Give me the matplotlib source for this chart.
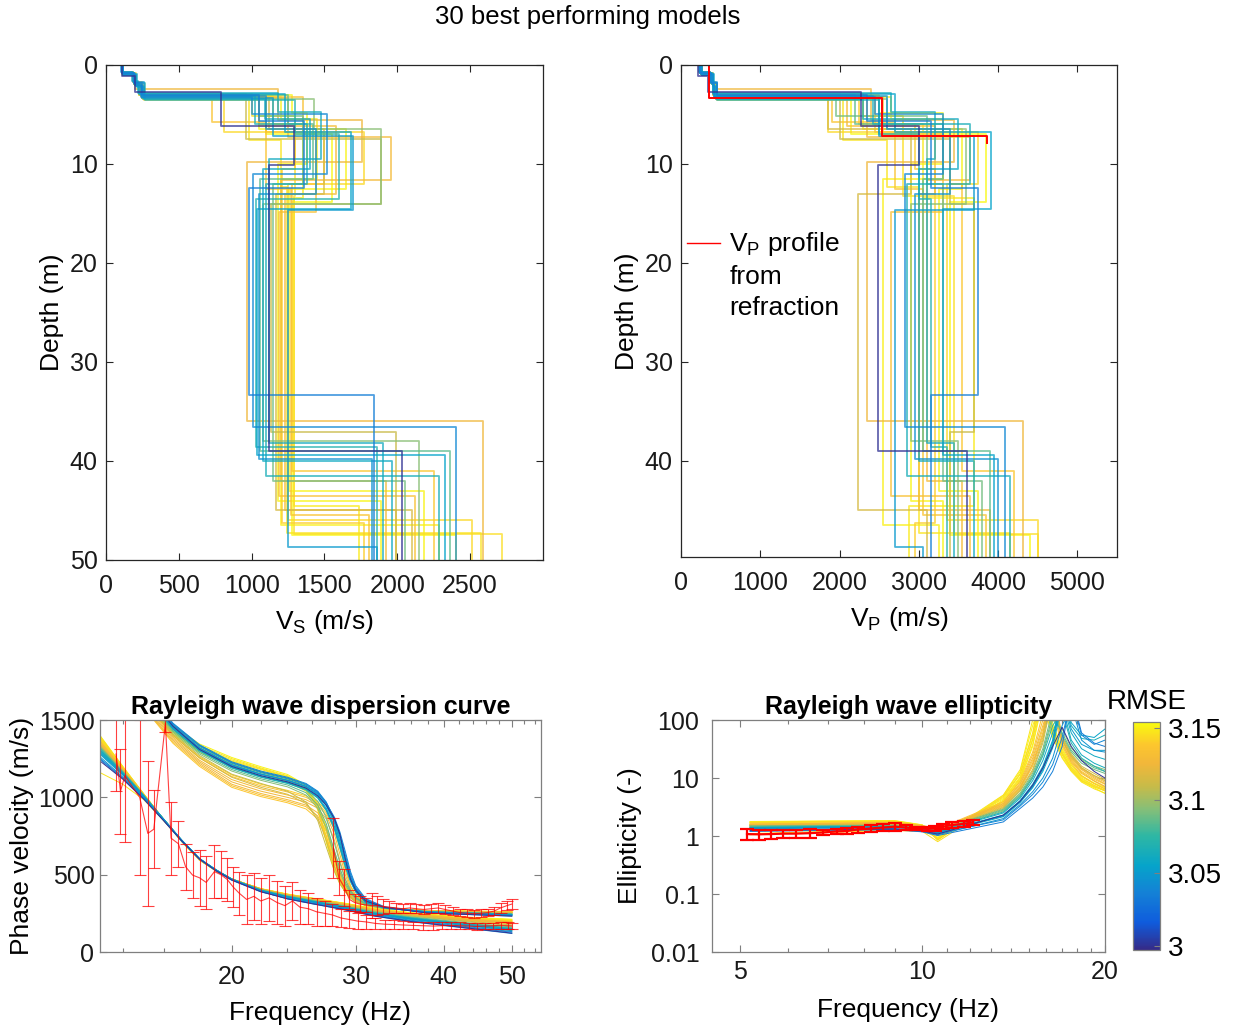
import numpy as np
import matplotlib.pyplot as plt
from matplotlib.colors import LinearSegmentedColormap, Normalize
from matplotlib.cm import ScalarMappable
from matplotlib.lines import Line2D
from matplotlib.ticker import FixedLocator, NullFormatter, NullLocator

plt.rcParams['font.family'] = ['Liberation Sans', 'DejaVu Sans']
plt.rcParams['mathtext.fontset'] = 'custom'
plt.rcParams['mathtext.rm'] = 'Liberation Sans'
plt.rcParams['mathtext.it'] = 'Liberation Sans:italic'

# ---- misfit of the 30 retained models ----
RMSE = [3.000, 3.035, 3.040, 3.045, 3.050, 3.055, 3.060, 3.062, 3.065, 3.070,
        3.085, 3.090, 3.095, 3.110, 3.115, 3.125, 3.128, 3.130, 3.133, 3.136,
        3.138, 3.140, 3.143, 3.145, 3.147, 3.149, 3.150, 3.151, 3.152, 3.153]
RMSE_LIMS = [2.997, 3.154]

# ---- layered models: layer bottoms (m), Vs and Vp per layer (m/s) ----
LAYER_DEPTHS = [
    [1.1, 1.9, 2.7, 6.2, 10.1, 39.0],
    [0.8, 1.8, 3.0, 5.7, 12.4, 33.3],
    [0.9, 2.0, 3.2, 5.0, 11.0, 36.6],
    [0.7, 1.7, 3.1, 6.5, 13.0, 39.8],
    [1.0, 2.1, 3.3, 7.2, 14.7, 48.7],
    [0.8, 1.9, 2.9, 6.8, 14.5, 39.4],
    [0.9, 2.2, 3.4, 5.5, 10.5, 40.0],
    [0.7, 1.6, 2.8, 4.8, 9.5, 38.2],
    [1.0, 2.0, 3.1, 6.0, 12.0, 41.5],
    [0.8, 1.8, 3.5, 7.0, 13.5, 38.6],
    [0.9, 1.9, 3.0, 6.0, 11.5, 39.0],
    [0.8, 2.0, 3.2, 5.2, 12.0, 42.0],
    [1.0, 2.1, 3.4, 6.5, 14.0, 38.0],
    [0.9, 1.8, 2.9, 7.5, 14.0, 37.1],
    [0.8, 1.9, 3.3, 6.5, 13.0, 45.0],
    [0.9, 2.0, 2.4, 5.6, 9.8, 36.0],
    [1.0, 2.1, 3.3, 7.3, 11.6, 42.0],
    [0.8, 1.8, 3.0, 6.2, 13.0, 45.0],
    [0.7, 1.7, 3.2, 7.0, 14.9, 43.5],
    [0.9, 2.0, 3.4, 5.8, 12.5, 45.5],
    [1.0, 1.9, 3.1, 6.8, 12.0, 41.0],
    [0.8, 2.1, 3.5, 6.0, 10.5, 46.3],
    [0.9, 1.8, 3.0, 6.8, 12.0, 46.0],
    [0.7, 1.7, 2.9, 5.2, 13.2, 47.4],
    [1.0, 2.0, 3.3, 7.6, 12.3, 47.3],
    [0.8, 1.9, 3.1, 6.0, 13.4, 44.6],
    [0.9, 2.0, 3.2, 5.5, 11.5, 46.5],
    [1.0, 2.1, 3.4, 6.5, 12.5, 43.0],
    [0.8, 1.8, 3.0, 4.9, 10.0, 44.0],
    [0.9, 1.9, 3.3, 7.0, 13.8, 47.5],
]
VS_LAYERS = [
    [113, 197, 197, 792, 1294, 1118, 2032],
    [110, 190, 250, 1050, 1362, 985, 1837],
    [115, 200, 240, 1000, 1516, 1007, 2403],
    [105, 185, 260, 1100, 1440, 1050, 1830],
    [118, 205, 250, 1150, 1697, 1253, 1864],
    [112, 195, 230, 1230, 1680, 1040, 2328],
    [116, 210, 260, 1090, 1400, 1080, 1961],
    [108, 180, 220, 1180, 1475, 1120, 1900],
    [117, 200, 245, 1020, 1380, 1100, 2290],
    [111, 192, 265, 1300, 1600, 1030, 1864],
    [114, 198, 235, 1250, 1420, 1057, 2362],
    [110, 200, 250, 1050, 1350, 1150, 2050],
    [118, 205, 255, 1430, 1887, 1080, 2150],
    [113, 190, 225, 960, 1887, 1130, 1990],
    [110, 195, 250, 1120, 1500, 1165, 2100],
    [115, 200, 200, 1180, 1760, 966, 2590],
    [118, 205, 245, 1250, 1960, 1200, 1920],
    [112, 190, 230, 1050, 1577, 1230, 1990],
    [108, 185, 250, 1350, 1441, 1190, 2120],
    [116, 200, 255, 730, 1100, 1270, 1808],
    [117, 195, 240, 1100, 1500, 1280, 2250],
    [111, 205, 260, 1050, 1300, 1210, 1770],
    [114, 190, 235, 808, 1770, 1250, 2516],
    [107, 183, 225, 1000, 1300, 1290, 2720],
    [118, 200, 250, 980, 1200, 1240, 2572],
    [110, 195, 240, 1150, 1350, 1294, 1735],
    [115, 200, 245, 1200, 1450, 1200, 2290],
    [118, 205, 255, 1050, 1650, 1260, 2185],
    [111, 190, 230, 1280, 1380, 1180, 1890],
    [113, 195, 245, 1100, 1550, 1275, 2400],
]
VP_LAYERS = [
    [218, 340, 340, 2277, 3004, 2487, 3613],
    [240, 380, 450, 2350, 3150, 3748, 3151],
    [250, 400, 420, 2450, 3300, 2823, 4084],
    [230, 360, 450, 2600, 3400, 2950, 4000],
    [260, 410, 430, 2500, 3700, 2697, 3050],
    [245, 390, 410, 2700, 3908, 3300, 3950],
    [255, 420, 440, 2300, 3500, 3000, 3700],
    [235, 370, 400, 2650, 3200, 3100, 3450],
    [265, 400, 420, 2420, 3650, 2850, 4147],
    [240, 385, 455, 2500, 3000, 3160, 3350],
    [250, 395, 415, 2200, 3300, 3050, 3900],
    [245, 400, 430, 1950, 3100, 3300, 3800],
    [260, 410, 440, 2600, 3600, 2900, 3500],
    [250, 380, 400, 2000, 3400, 3700, 3400],
    [240, 390, 430, 1850, 2900, 2227, 3100],
    [250, 400, 400, 2400, 3450, 2353, 4315],
    [260, 410, 430, 2350, 3650, 3100, 3550],
    [245, 380, 410, 2100, 3200, 3000, 3900],
    [235, 370, 435, 2550, 3300, 2650, 3650],
    [255, 400, 450, 1900, 2700, 3050, 3850],
    [265, 390, 420, 2450, 3400, 3550, 4200],
    [240, 410, 450, 2250, 2950, 3200, 2950],
    [250, 385, 415, 1850, 3750, 3350, 4504],
    [230, 365, 400, 2300, 2800, 3450, 4500],
    [260, 400, 430, 2050, 2600, 3000, 4150],
    [245, 390, 420, 2500, 3050, 3700, 2878],
    [250, 400, 430, 2650, 3300, 2550, 3250],
    [265, 410, 445, 2300, 3550, 3250, 3750],
    [240, 380, 410, 2500, 3300, 2900, 3300],
    [250, 395, 430, 2150, 3850, 3400, 4400],
]

# P-wave profile from refraction survey
REFR_DEPTHS = [3.3, 7.2, 7.9]
REFR_VP = [357, 2540, 3865]

# ---- synthetic dispersion curves (fundamental and first higher mode) ----
FUND_FREQ = [13, 14, 15, 16, 17, 18, 19, 20, 22, 24, 26, 29, 32, 36, 42, 50]
FUND_VEL = [
    [1235, 1118, 988, 850, 716, 601, 526, 466, 390, 344, 313, 273, 232, 197, 162, 122],
    [1245, 1122, 992, 852, 714, 599, 524, 464, 389, 346, 316, 276, 236, 201, 166, 128],
    [1252, 1126, 995, 853, 717, 602, 527, 467, 392, 343, 312, 272, 231, 196, 160, 120],
    [1262, 1132, 998, 855, 718, 603, 528, 468, 393, 348, 318, 279, 239, 205, 170, 132],
    [1285, 1148, 1004, 858, 721, 604, 531, 471, 398, 356, 326, 287, 247, 214, 180, 143],
    [1298, 1154, 1008, 860, 720, 603, 530, 470, 397, 357, 327, 288, 249, 216, 182, 146],
    [1278, 1144, 1002, 857, 722, 605, 532, 472, 399, 354, 323, 283, 243, 210, 176, 138],
    [1305, 1158, 1010, 860, 719, 602, 529, 469, 396, 358, 329, 290, 251, 218, 185, 150],
    [1292, 1151, 1006, 859, 720, 604, 531, 471, 398, 355, 325, 286, 246, 213, 179, 141],
    [1315, 1162, 1011, 859, 718, 601, 528, 469, 398, 359, 330, 291, 252, 220, 188, 152],
    [1318, 1164, 1012, 860, 720, 602, 530, 472, 402, 361, 332, 294, 256, 224, 191, 157],
    [1328, 1169, 1013, 861, 719, 601, 529, 471, 403, 363, 335, 297, 259, 227, 195, 162],
    [1306, 1158, 1009, 859, 721, 603, 531, 473, 401, 360, 331, 293, 255, 222, 189, 155],
    [1335, 1172, 1012, 857, 717, 599, 527, 472, 405, 367, 339, 301, 264, 234, 205, 175],
    [1325, 1168, 1011, 858, 718, 600, 528, 472, 404, 365, 337, 299, 262, 232, 201, 170],
    [1345, 1178, 1014, 858, 716, 598, 527, 472, 406, 369, 342, 306, 270, 242, 213, 188],
    [1355, 1182, 1016, 859, 715, 597, 526, 472, 407, 370, 343, 307, 272, 244, 216, 192],
    [1340, 1176, 1013, 857, 717, 599, 528, 472, 405, 368, 340, 304, 268, 240, 210, 184],
    [1362, 1185, 1017, 858, 715, 597, 526, 471, 406, 370, 344, 308, 273, 245, 217, 194],
    [1348, 1180, 1014, 858, 716, 598, 527, 472, 406, 369, 341, 305, 269, 241, 212, 186],
    [1366, 1187, 1017, 857, 714, 596, 525, 471, 407, 371, 345, 309, 274, 246, 219, 196],
    [1338, 1175, 1013, 859, 717, 599, 528, 473, 405, 367, 340, 303, 267, 238, 208, 182],
    [1382, 1193, 1019, 857, 714, 596, 526, 472, 408, 372, 346, 311, 276, 249, 222, 200],
    [1396, 1199, 1021, 856, 713, 595, 525, 471, 409, 373, 347, 312, 277, 250, 224, 204],
    [1160, 1085, 985, 850, 715, 598, 527, 473, 408, 371, 345, 310, 275, 248, 221, 198],
    [1372, 1189, 1018, 857, 714, 596, 526, 472, 407, 372, 345, 310, 275, 248, 221, 199],
    [1388, 1196, 1020, 856, 713, 595, 525, 471, 409, 373, 347, 312, 277, 250, 223, 202],
    [1376, 1191, 1019, 858, 715, 597, 527, 472, 408, 372, 347, 313, 279, 252, 226, 207],
    [1392, 1197, 1020, 856, 713, 595, 525, 471, 409, 374, 348, 314, 280, 253, 227, 210],
    [1400, 1201, 1022, 855, 712, 594, 524, 470, 410, 375, 349, 315, 281, 254, 228, 212],
]
HIGH_FREQ = [15.5, 16.5, 18, 20, 22, 24, 25.5, 26.5, 27.25, 28, 28.5, 29, 29.5, 30, 31, 33, 38, 50]
HIGH_VEL = [
    [1610, 1460, 1310, 1200, 1140, 1100, 1060, 1010, 950, 860, 760, 600, 470, 400, 330, 288, 252, 232],
    [1630, 1475, 1335, 1225, 1165, 1125, 1085, 1035, 965, 860, 760, 630, 505, 420, 340, 290, 254, 235],
    [1615, 1465, 1320, 1210, 1150, 1110, 1072, 1025, 962, 870, 775, 650, 520, 430, 345, 292, 256, 236],
    [1640, 1480, 1340, 1230, 1170, 1130, 1090, 1040, 970, 855, 745, 610, 490, 410, 335, 288, 251, 233],
    [1600, 1450, 1310, 1200, 1140, 1100, 1060, 1005, 930, 810, 690, 570, 465, 395, 322, 286, 258, 240],
    [1605, 1455, 1315, 1205, 1148, 1108, 1068, 1015, 945, 830, 710, 585, 475, 400, 325, 287, 259, 242],
    [1595, 1445, 1305, 1195, 1135, 1095, 1055, 1000, 920, 800, 680, 560, 460, 390, 320, 285, 257, 238],
    [1620, 1470, 1330, 1220, 1160, 1120, 1080, 1030, 960, 850, 740, 610, 490, 410, 332, 289, 260, 243],
    [1590, 1440, 1300, 1190, 1130, 1090, 1050, 995, 915, 790, 670, 550, 455, 388, 318, 284, 258, 241],
    [1610, 1460, 1320, 1212, 1152, 1112, 1072, 1020, 950, 840, 720, 595, 480, 405, 328, 288, 260, 244],
    [1580, 1430, 1290, 1180, 1120, 1080, 1030, 950, 830, 650, 540, 450, 390, 350, 310, 282, 260, 245],
    [1590, 1440, 1300, 1192, 1132, 1092, 1045, 975, 870, 700, 575, 470, 400, 355, 312, 283, 262, 247],
    [1570, 1420, 1280, 1170, 1110, 1068, 1015, 930, 800, 620, 515, 435, 380, 345, 308, 281, 261, 246],
    [1560, 1410, 1270, 1150, 1090, 1040, 970, 850, 680, 520, 440, 390, 350, 325, 300, 280, 262, 250],
    [1550, 1400, 1255, 1130, 1065, 1020, 960, 870, 720, 550, 460, 400, 358, 330, 302, 281, 263, 251],
    [1520, 1380, 1230, 1100, 1040, 1000, 970, 930, 860, 720, 590, 470, 390, 350, 310, 285, 265, 255],
    [1510, 1370, 1220, 1085, 1025, 985, 950, 900, 810, 650, 530, 440, 375, 342, 306, 284, 266, 256],
    [1530, 1390, 1240, 1115, 1055, 1015, 985, 948, 885, 760, 630, 500, 405, 358, 314, 287, 264, 254],
    [1505, 1360, 1210, 1075, 1015, 975, 940, 880, 780, 610, 500, 420, 365, 336, 304, 283, 266, 257],
    [1540, 1400, 1255, 1135, 1075, 1035, 1000, 960, 900, 790, 670, 530, 420, 365, 318, 288, 265, 253],
    [1500, 1350, 1200, 1065, 1005, 965, 925, 860, 750, 580, 480, 410, 360, 333, 302, 282, 267, 258],
    [1545, 1405, 1262, 1145, 1085, 1045, 1010, 972, 915, 810, 690, 550, 430, 370, 320, 289, 264, 252],
    [1560, 1440, 1320, 1230, 1170, 1120, 1050, 930, 750, 560, 460, 400, 360, 330, 305, 285, 265, 258],
    [1550, 1430, 1310, 1235, 1180, 1130, 1060, 920, 720, 530, 445, 390, 352, 326, 303, 284, 266, 259],
    [1575, 1455, 1335, 1250, 1190, 1140, 1075, 960, 790, 600, 490, 415, 368, 335, 307, 286, 265, 257],
    [1540, 1420, 1300, 1215, 1160, 1112, 1050, 950, 800, 620, 505, 425, 372, 338, 308, 286, 264, 256],
    [1565, 1445, 1325, 1242, 1185, 1135, 1065, 935, 740, 545, 452, 395, 356, 328, 304, 284, 267, 260],
    [1535, 1410, 1290, 1205, 1150, 1105, 1040, 945, 785, 590, 485, 412, 366, 334, 306, 285, 266, 258],
    [1585, 1465, 1345, 1258, 1198, 1148, 1080, 925, 710, 520, 440, 388, 350, 325, 302, 283, 268, 262],
    [1545, 1425, 1305, 1222, 1165, 1118, 1055, 955, 810, 630, 512, 430, 375, 340, 309, 287, 266, 259],
]

# ---- observed dispersion picks with uncertainties ----
OBS_FUND_FREQ = [13.7, 13.9, 14.1, 14.8, 15.2, 15.5, 16.1, 16.4, 16.8, 17.2, 17.6, 18.0,
                 18.4, 18.9, 19.3, 19.7, 20.1, 20.5, 21.0, 21.5, 22.0, 22.6, 23.2, 23.8,
                 24.4, 25.0, 25.7, 26.4, 27.1, 27.8, 28.6, 29.4, 30.2, 31.0, 32.0, 33.0,
                 34.0, 35.0, 36.2, 37.4, 38.6, 39.8, 41.0, 42.2, 43.4, 44.6, 45.8, 47.0,
                 48.2, 49.4, 50.0]
OBS_FUND_VEL = [1280, 1040, 1140, 1000, 767, 794, 1480, 736, 700, 551, 497, 480,
                450, 520, 500, 470, 420, 380, 340, 360, 330, 350, 320, 300,
                330, 290, 280, 260, 250, 240, 220, 210, 200, 195, 185, 180,
                178, 175, 172, 170, 168, 170, 172, 170, 168, 165, 168, 170,
                172, 170, 168]
OBS_FUND_ERR = [240, 275, 430, 500, 470, 253, 60, 235, 150, 150, 150, 180,
                170, 170, 150, 140, 130, 140, 160, 150, 150, 150, 140, 130,
                120, 110, 100, 90, 80, 70, 60, 55, 50, 45, 35, 30,
                30, 28, 25, 25, 25, 22, 22, 22, 20, 20, 20, 20,
                22, 22, 22]
OBS_HIGH_FREQ = [27.9, 28.4, 28.9, 29.4, 29.9, 30.4, 31.0, 31.6, 32.2, 32.8, 33.5, 34.2,
                 35.0, 35.8, 36.6, 37.5, 38.4, 39.3, 40.2, 41.2, 42.2, 43.2, 44.2, 45.2,
                 46.2, 47.2, 48.2, 49.2, 50.0]
OBS_HIGH_VEL = [672, 480, 420, 340, 320, 310, 305, 300, 300, 295, 290, 285,
                280, 285, 280, 275, 280, 285, 275, 265, 255, 250, 248, 250,
                255, 265, 285, 300, 310]
OBS_HIGH_ERR = [195, 110, 120, 60, 55, 50, 45, 80, 60, 50, 40, 35,
                30, 30, 30, 30, 30, 30, 30, 25, 25, 25, 25, 25,
                25, 28, 30, 30, 30]

# ---- synthetic ellipticity curves ----
ELL_FREQ = [5.2, 7, 9, 10, 10.6, 13.6, 14.5, 15.2, 15.8, 16.4, 17, 17.6, 18.3, 19.2, 20]
ELL_VAL = [
    [1.25, 1.3, 1.32, 1.22, 1.08, 2.3, 4.0, 7.5, 15, 35, 75, 35, 20, 13, 10],
    [1.2, 1.25, 1.28, 1.18, 1.02, 1.75, 3.0, 4.5, 7, 13, 35, 300, 60, 40, 35],
    [1.3, 1.33, 1.35, 1.25, 1.1, 1.9, 3.3, 5.2, 8.5, 17, 50, 250, 55, 38, 45],
    [1.22, 1.27, 1.3, 1.2, 1.05, 2.0, 3.5, 5.8, 10, 22, 80, 180, 45, 30, 28],
    [1.35, 1.4, 1.42, 1.32, 1.15, 2.2, 3.9, 7, 14, 38, 250, 70, 38, 30, 30],
    [1.38, 1.42, 1.44, 1.33, 1.16, 2.3, 4.1, 7.8, 16, 45, 300, 90, 55, 50, 70],
    [1.32, 1.38, 1.4, 1.3, 1.12, 2.15, 3.8, 6.8, 13, 33, 200, 60, 32, 24, 21],
    [1.4, 1.45, 1.46, 1.35, 1.18, 2.5, 4.5, 9, 20, 60, 180, 45, 25, 18, 15],
    [1.36, 1.41, 1.43, 1.31, 1.14, 2.25, 4.0, 7.2, 15, 42, 280, 80, 48, 45, 55],
    [1.42, 1.46, 1.48, 1.36, 1.2, 2.6, 4.8, 10, 24, 80, 140, 40, 22, 16, 13],
    [1.45, 1.5, 1.5, 1.38, 1.22, 2.8, 5.2, 11, 28, 120, 60, 30, 20, 15, 13],
    [1.5, 1.52, 1.53, 1.4, 1.25, 2.9, 5.5, 12, 32, 150, 55, 28, 18, 14, 12],
    [1.42, 1.48, 1.48, 1.37, 1.2, 2.7, 5.0, 10.5, 26, 100, 70, 33, 21, 16, 14],
    [1.5, 1.55, 1.58, 1.42, 1.25, 3.1, 6.2, 14, 45, 300, 45, 24, 15, 11, 9],
    [1.48, 1.53, 1.55, 1.4, 1.22, 3.0, 6.0, 13, 40, 250, 50, 26, 16, 12, 9.5],
    [1.55, 1.6, 1.65, 1.48, 1.3, 3.4, 7, 18, 60, 400, 45, 22, 14, 10, 8],
    [1.6, 1.65, 1.7, 1.5, 1.32, 3.6, 7.8, 22, 80, 300, 40, 20, 12.5, 9, 7.2],
    [1.52, 1.58, 1.62, 1.46, 1.28, 3.3, 6.8, 17, 55, 350, 48, 23, 14.5, 10.5, 8.5],
    [1.58, 1.62, 1.68, 1.5, 1.3, 3.7, 8.2, 25, 100, 200, 38, 19, 12, 8.8, 7],
    [1.5, 1.55, 1.6, 1.45, 1.27, 3.2, 6.5, 16, 50, 380, 52, 25, 15, 11, 9],
    [1.62, 1.68, 1.72, 1.52, 1.33, 3.9, 8.8, 28, 130, 150, 35, 18, 11, 8, 6.5],
    [1.54, 1.6, 1.64, 1.47, 1.29, 3.5, 7.3, 20, 70, 320, 44, 21, 13, 9.5, 7.8],
    [1.7, 1.75, 1.78, 1.5, 0.85, 4.8, 12, 60, 500, 60, 25, 14, 9, 7, 6],
    [1.05, 1.15, 1.25, 1.2, 0.8, 4.2, 10, 45, 300, 70, 28, 15.5, 10, 7.5, 6.2],
    [1.75, 1.8, 1.82, 1.55, 0.9, 5.1, 14, 100, 200, 50, 22, 13, 8.5, 6.5, 5.5],
    [1.6, 1.68, 1.7, 1.45, 1.0, 4.0, 9.5, 38, 250, 80, 30, 16.5, 10.5, 8, 6.5],
    [1.68, 1.74, 1.76, 1.5, 0.88, 4.6, 11.5, 55, 400, 65, 26, 14.5, 9.3, 7.2, 6],
    [1.72, 1.78, 1.8, 1.52, 0.92, 4.4, 10.5, 48, 350, 68, 27, 15, 9.6, 7.4, 6.1],
    [1.1, 1.2, 1.3, 1.22, 0.95, 3.9, 9, 35, 220, 90, 32, 17, 11, 8.2, 6.8],
    [1.78, 1.82, 1.85, 1.56, 0.86, 5.0, 13, 80, 250, 55, 23, 13.5, 8.8, 6.8, 5.4],
]

OBS_ELL_FREQ = [5.14, 5.38, 5.62, 5.9, 6.19, 6.52, 6.85, 7.22, 7.52, 7.82, 8.24,
                8.6, 9.0, 9.4, 9.75, 10.2, 10.5, 10.8, 11.2, 11.7, 12.1]
OBS_ELL = [1.08, 1.07, 1.08, 1.1, 1.1, 1.12, 1.15, 1.2, 1.22, 1.3, 1.35,
           1.4, 1.45, 1.4, 1.35, 1.33, 1.35, 1.45, 1.55, 1.62, 1.72]
OBS_ELL_ERR = [0.22, 0.2, 0.18, 0.18, 0.18, 0.2, 0.12, 0.12, 0.15, 0.15, 0.18,
               0.2, 0.22, 0.15, 0.1, 0.1, 0.12, 0.15, 0.18, 0.18, 0.2]

# parula-like colour map
PARULA = LinearSegmentedColormap.from_list('parula', [
    (0.00, '#352a87'), (0.12, '#0f5cdd'), (0.25, '#1481d6'), (0.37, '#06a4ca'),
    (0.50, '#2eb7a4'), (0.62, '#87bf77'), (0.72, '#c8bb48'), (0.82, '#f2b73a'),
    (0.90, '#fcc62e'), (1.00, '#f9fb0e')])
norm = Normalize(*RMSE_LIMS)

TICK_FS = 18
LABEL_FS = 19


def staircase(depths, vel, zmax):
    """Turn layer bottoms + layer velocities into a step line (x=velocity, y=depth)."""
    tops = [0] + list(depths)
    bots = list(depths) + [zmax]
    xs, ys = [], []
    for t, b, v in zip(tops, bots, vel):
        xs += [v, v]
        ys += [t, b]
    return xs, ys


def style_axes(ax, edge='#262626', xpad=10, ypad=6):
    ax.tick_params(which='both', direction='in', top=True, right=True,
                   labelsize=TICK_FS, width=0.8, colors=edge, labelcolor='#1a1a1a')
    ax.tick_params(which='major', length=5)
    ax.tick_params(which='minor', length=3)
    ax.tick_params(axis='x', pad=xpad)
    ax.tick_params(axis='y', pad=ypad)
    for s in ax.spines.values():
        s.set_color(edge)
        s.set_linewidth(0.9)


fig = plt.figure(figsize=(12.35, 10.28), dpi=100)
fig.text(0.476, 0.983, '30 best performing models', ha='center', va='center', fontsize=18.5)

order = np.argsort(RMSE)[::-1]   # worst first, best drawn on top

# --- Vs profiles ---
ax_vs = fig.add_axes([0.0858, 0.4553, 0.3538, 0.4815])
for i in order:
    x, y = staircase(LAYER_DEPTHS[i], VS_LAYERS[i], 50)
    ax_vs.plot(x, y, color=PARULA(norm(RMSE[i])), lw=1.3, alpha=0.75)
ax_vs.set_xlim(0, 3000)
ax_vs.set_ylim(50, 0)
ax_vs.set_xticks([0, 500, 1000, 1500, 2000, 2500])
ax_vs.set_yticks([0, 10, 20, 30, 40, 50])
style_axes(ax_vs)
ax_vs.set_xlabel(r'V$_\mathrm{S}$ (m/s)', fontsize=LABEL_FS, labelpad=7)
ax_vs.set_ylabel('Depth (m)', fontsize=LABEL_FS, labelpad=4)

# --- Vp profiles ---
ax_vp = fig.add_axes([0.5514, 0.4582, 0.3530, 0.4786])
for i in order:
    x, y = staircase(LAYER_DEPTHS[i], VP_LAYERS[i], 50)
    ax_vp.plot(x, y, color=PARULA(norm(RMSE[i])), lw=1.3, alpha=0.75)
rx, ry = staircase(REFR_DEPTHS[:-1], REFR_VP, REFR_DEPTHS[-1])
ax_vp.plot(rx, ry, color='red', lw=1.4)
ax_vp.set_xlim(0, 5500)
ax_vp.set_ylim(49.7, 0)
ax_vp.set_xticks([0, 1000, 2000, 3000, 4000, 5000])
ax_vp.set_yticks([0, 10, 20, 30, 40])
style_axes(ax_vp)
ax_vp.set_xlabel(r'V$_\mathrm{P}$ (m/s)', fontsize=LABEL_FS, labelpad=7)
ax_vp.set_ylabel('Depth (m)', fontsize=LABEL_FS, labelpad=4)
leg = ax_vp.legend([Line2D([], [], color='red', lw=1.0)],
                   ['V$_\\mathrm{P}$ profile\nfrom\nrefraction'],
                   loc='upper left', bbox_to_anchor=(0.014, 0.664), borderaxespad=0,
                   borderpad=0, frameon=False, fontsize=LABEL_FS,
                   handlelength=1.25, handletextpad=0.35)
leg.get_texts()[0].set_linespacing(1.35)
# put the legend line next to the first text line, as in the source figure
hl = leg.legend_handles[0]
hl.set_ydata(np.asarray(hl.get_ydata()) + 23)

# --- dispersion curves ---
ax_d = fig.add_axes([0.081, 0.0739, 0.357, 0.2257])
for i in order:
    c = PARULA(norm(RMSE[i]))
    ax_d.plot(FUND_FREQ, FUND_VEL[i], color=c, lw=0.7)
    ax_d.plot(HIGH_FREQ, HIGH_VEL[i], color=c, lw=0.7)
for f, v, e in [(OBS_FUND_FREQ, OBS_FUND_VEL, OBS_FUND_ERR),
                (OBS_HIGH_FREQ, OBS_HIGH_VEL, OBS_HIGH_ERR)]:
    ax_d.errorbar(f, v, yerr=e, color='red', lw=0.8, elinewidth=0.8,
                  capsize=4, capthick=0.8, alpha=0.75)
ax_d.set_xscale('log')
ax_d.set_xlim(13, 55)
ax_d.set_ylim(0, 1500)
ax_d.xaxis.set_major_locator(FixedLocator([20, 30, 40, 50]))
ax_d.xaxis.set_minor_locator(FixedLocator([14, 16, 18, 22, 24, 26, 28, 32, 34, 36, 38,
                                           42, 44, 46, 48, 52, 54]))
ax_d.xaxis.set_minor_formatter(NullFormatter())
ax_d.set_xticklabels(['20', '30', '40', '50'])
ax_d.set_yticks([0, 500, 1000, 1500])
style_axes(ax_d, edge='#7f7f7f', xpad=9, ypad=4)
ax_d.set_title('Rayleigh wave dispersion curve', fontsize=18, fontweight='bold', pad=4)
ax_d.set_xlabel('Frequency (Hz)', fontsize=LABEL_FS, labelpad=9)
ax_d.set_ylabel('Phase velocity (m/s)', fontsize=LABEL_FS, labelpad=3)

# --- ellipticity ---
ax_e = fig.add_axes([0.5765, 0.0739, 0.3182, 0.2257])
for i in order:
    ax_e.plot(ELL_FREQ, ELL_VAL[i], color=PARULA(norm(RMSE[i])), lw=0.7)
ax_e.errorbar(OBS_ELL_FREQ, OBS_ELL, yerr=OBS_ELL_ERR, color='red', lw=1.6,
              elinewidth=1.6, capsize=5, capthick=1.6)
ax_e.set_xscale('log')
ax_e.set_yscale('log')
ax_e.set_xlim(4.5, 20)
ax_e.set_ylim(0.01, 100)
ax_e.xaxis.set_major_locator(FixedLocator([5, 10, 20]))
ax_e.xaxis.set_minor_locator(FixedLocator([6, 7, 8, 9, 11, 12, 13, 14, 15, 16, 17, 18, 19]))
ax_e.xaxis.set_minor_formatter(NullFormatter())
ax_e.set_xticklabels(['5', '10', '20'])
ax_e.yaxis.set_major_locator(FixedLocator([0.01, 0.1, 1, 10, 100]))
ax_e.yaxis.set_minor_locator(NullLocator())
ax_e.set_yticklabels(['0.01', '0.1', '1', '10', '100'])
style_axes(ax_e, edge='#7f7f7f', xpad=6, ypad=9)
ax_e.set_title('Rayleigh wave ellipticity', fontsize=18, fontweight='bold', pad=4)
ax_e.set_xlabel('Frequency (Hz)', fontsize=LABEL_FS, labelpad=10)
ax_e.set_ylabel('Ellipticity (-)', fontsize=LABEL_FS, labelpad=6)

# --- colorbar ---
cax = fig.add_axes([0.9174, 0.0759, 0.0219, 0.2218])
cb = fig.colorbar(ScalarMappable(norm=norm, cmap=PARULA), cax=cax)
cb.set_ticks([3, 3.05, 3.1, 3.15])
cb.set_ticklabels(['3', '3.05', '3.1', '3.15'])
cb.ax.tick_params(direction='in', labelsize=20, length=4, color='#7f7f7f', pad=6)
cb.outline.set_edgecolor('#7f7f7f')
cb.outline.set_linewidth(0.9)
cax.set_title('RMSE', fontsize=20, pad=9)

fig.savefig('out.png', dpi=100)
